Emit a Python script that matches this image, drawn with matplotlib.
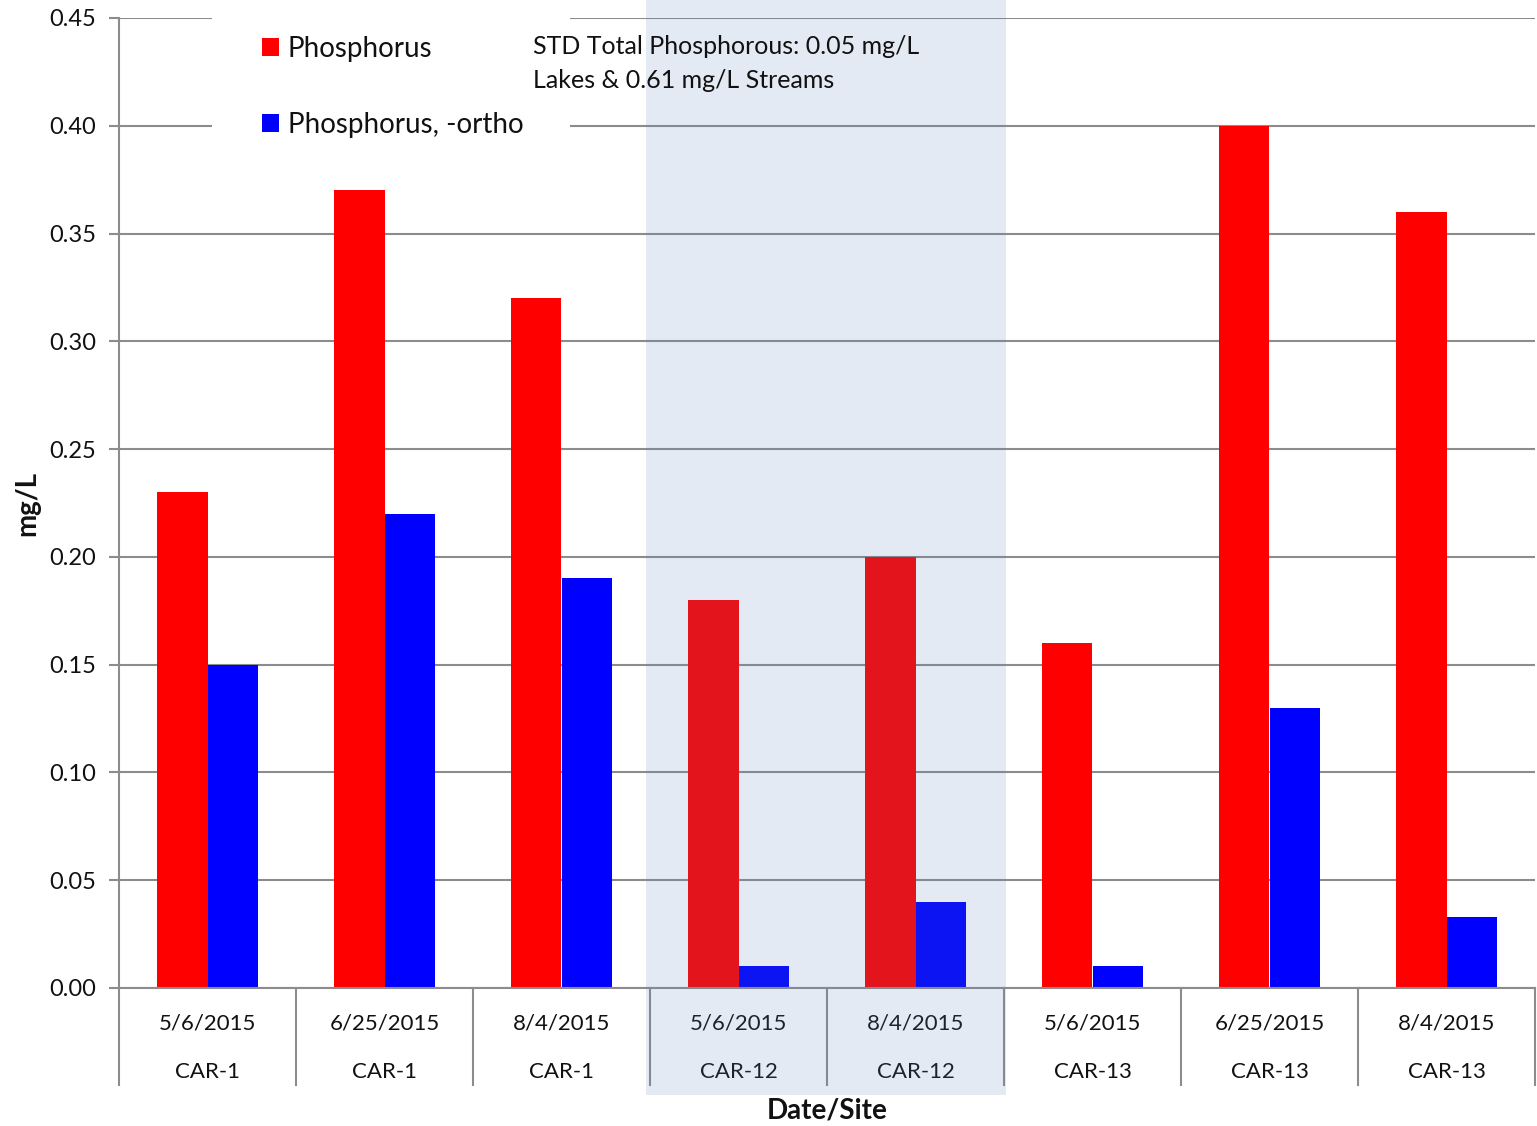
"""Phosphorus vs ortho-phosphorus by date and site."""

import matplotlib

matplotlib.use("Agg")
import matplotlib.pyplot as plt
from matplotlib.patches import Patch, Rectangle
from matplotlib.transforms import blended_transform_factory

dates = ["5/6/2015", "6/25/2015", "8/4/2015", "5/6/2015", "8/4/2015",
         "5/6/2015", "6/25/2015", "8/4/2015"]
sites = ["CAR-1", "CAR-1", "CAR-1", "CAR-12", "CAR-12", "CAR-13", "CAR-13", "CAR-13"]
phosphorus = [0.23, 0.37, 0.32, 0.18, 0.20, 0.16, 0.40, 0.36]
ortho = [0.15, 0.22, 0.19, 0.01, 0.04, 0.01, 0.13, 0.033]
yticks = [0.00, 0.05, 0.10, 0.15, 0.20, 0.25, 0.30, 0.35, 0.40, 0.45]
highlight = (2.48, 4.51)  # CAR-12 group span, in x data units

_RED = "#ff0000"
_BLUE = "#0000ff"
_GRID = "#8c8c8c"
_TEXT = "#111111"
_SHADE = "#5782ba"
_FONT = "Lato"

W, H = 1537, 1126
plt.rcParams["font.family"] = [_FONT, "DejaVu Sans"]

fig = plt.figure(figsize=(W / 100, H / 100), dpi=100)
ax = fig.add_axes([119 / W, 1 - 988 / H, (1535 - 119) / W, (988 - 18) / H])

x = list(range(len(dates)))
bw = 0.285
ax.bar([i - bw / 2 for i in x], phosphorus, width=bw, color=_RED, zorder=2)
ax.bar([i + bw / 2 for i in x], ortho, width=bw, color=_BLUE, zorder=2)

ax.set_xlim(-0.5, 7.5)
ax.set_ylim(0, 0.45)
ax.set_yticks(yticks)
ax.set_yticklabels([f"{v:.2f}" for v in yticks])
ax.set_axisbelow(True)
ax.yaxis.grid(True, color=_GRID, linewidth=1.5)
ax.tick_params(axis="y", length=7, width=1.5, color=_GRID, labelsize=17,
               labelcolor=_TEXT, pad=9.5)
ax.set_xticks([])
for side in ("top", "right"):
    ax.spines[side].set_visible(False)
for side in ("left", "bottom"):
    ax.spines[side].set_color(_GRID)
    ax.spines[side].set_linewidth(1.5)

# two-row category axis with separators
xt = ax.get_xaxis_transform()
sep_low = -(1085 - 988) / 970
for b in [i - 0.5 for i in range(len(dates) + 1)]:
    ax.plot([b, b], [0, sep_low], transform=xt, color=_GRID, linewidth=1.5,
            clip_on=False, zorder=3)
for i, (d, s) in enumerate(zip(dates, sites)):
    ax.text(i, -(1023 - 988) / 970, d, transform=xt, ha="center", va="center",
            fontsize=16, color=_TEXT)
    ax.text(i, -(1072 - 988) / 970, s, transform=xt, ha="center", va="center",
            fontsize=16, color=_TEXT)

fig.text(27 / W, 1 - 503 / H, "mg/L", rotation=90, ha="center", va="center",
         fontsize=20, fontweight="bold", color=_TEXT)
fig.text(827 / W, 1 - 1110 / H, "Date/Site", ha="center", va="center",
         fontsize=20, fontweight="bold", color=_TEXT)

# translucent highlight over the CAR-12 samples
shade_tf = blended_transform_factory(ax.transData, fig.transFigure)
ax.add_patch(Rectangle((highlight[0], 1 - 1095 / H), highlight[1] - highlight[0],
                       1095 / H, transform=shade_tf, facecolor=_SHADE, alpha=0.16,
                       linewidth=0, clip_on=False, zorder=6))

# white legend backing that breaks the gridlines
ax.add_patch(Rectangle((212 / W, 1 - 150 / H), (570 - 212) / W, 140 / H,
                       transform=fig.transFigure, facecolor="white", linewidth=0,
                       clip_on=False, zorder=1))
handles = [Patch(facecolor=_RED, label="Phosphorus"),
           Patch(facecolor=_BLUE, label="Phosphorus, -ortho")]
ax.legend(handles=handles, loc="upper left", bbox_to_anchor=(262 / W, 1 - 36 / H),
          bbox_transform=fig.transFigure, frameon=False, fontsize=20,
          handlelength=0.6, handleheight=0.6, handletextpad=0.33,
          labelspacing=1.8, borderpad=0, borderaxespad=0, labelcolor=_TEXT)

fig.text(533 / W, 1 - 47 / H, "STD Total Phosphorous: 0.05 mg/L", ha="left",
         va="center", fontsize=18, color=_TEXT)
fig.text(533 / W, 1 - 81 / H, "Lakes & 0.61 mg/L Streams", ha="left",
         va="center", fontsize=18, color=_TEXT)

fig.savefig("out.png", dpi=100, facecolor="white")
